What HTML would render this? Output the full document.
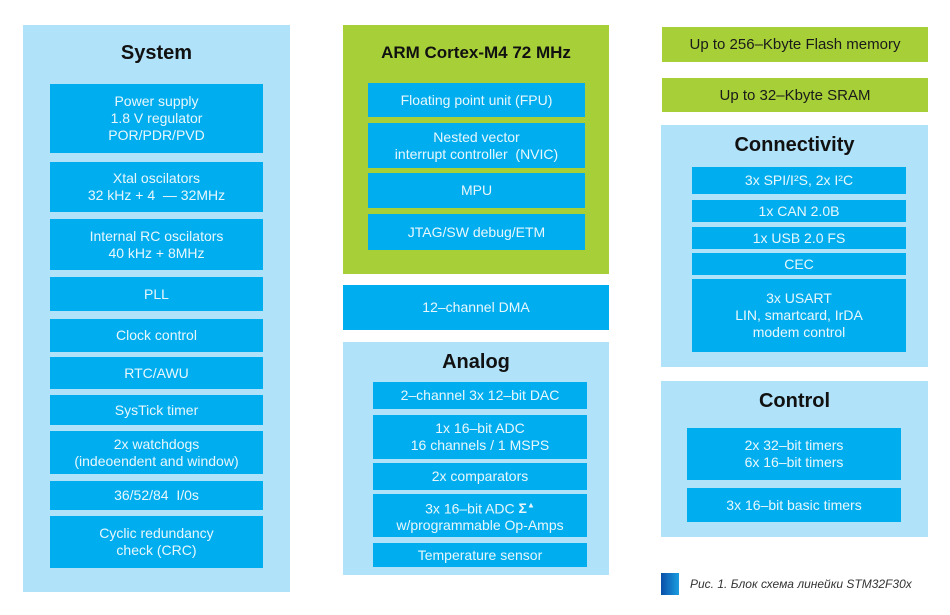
<!DOCTYPE html>
<html><head><meta charset="utf-8"><style>
body{margin:0;width:950px;height:615px;background:#fff;position:relative;overflow:hidden;font-family:"Liberation Sans","DejaVu Sans",sans-serif}
.p{position:absolute;background:#b0e2f9}
.g{position:absolute;background:#a6cf38}
.b{position:absolute;background:#00aeef;color:#e8f7fd;font-size:14px;line-height:17px;display:flex;align-items:center;justify-content:center;text-align:center}
.t{position:absolute;font-weight:bold;font-size:20px;color:#111;text-align:center}
.gl{position:absolute;background:#a6cf38;color:#1a1a1a;font-size:15px;display:flex;align-items:center;justify-content:center}
</style></head><body>
<div class="p" style="left:23px;top:25px;width:267px;height:567px"></div>
<div class="t" style="left:23px;top:42px;width:267px">System</div>
<div class="b" style="left:50px;top:84px;width:213px;height:69px">Power supply<br>1.8 V regulator<br>POR/PDR/PVD</div>
<div class="b" style="left:50px;top:162px;width:213px;height:50px">Xtal oscilators<br>32 kHz + 4 &nbsp;— 32MHz</div>
<div class="b" style="left:50px;top:219px;width:213px;height:51px">Internal RC oscilators<br>40 kHz + 8MHz</div>
<div class="b" style="left:50px;top:277px;width:213px;height:34px">PLL</div>
<div class="b" style="left:50px;top:319px;width:213px;height:33px">Clock control</div>
<div class="b" style="left:50px;top:357px;width:213px;height:32px">RTC/AWU</div>
<div class="b" style="left:50px;top:395px;width:213px;height:30px">SysTick timer</div>
<div class="b" style="left:50px;top:431px;width:213px;height:43px">2x watchdogs<br>(indeoendent and window)</div>
<div class="b" style="left:50px;top:481px;width:213px;height:29px">36/52/84 &nbsp;I/0s</div>
<div class="b" style="left:50px;top:516px;width:213px;height:52px">Cyclic redundancy<br>check (CRC)</div>

<div class="g" style="left:343px;top:25px;width:266px;height:249px"></div>
<div class="t" style="left:343px;top:43px;width:266px;font-size:17px">ARM Cortex-M4 72 MHz</div>
<div class="b" style="left:368px;top:83px;width:217px;height:34px">Floating point unit (FPU)</div>
<div class="b" style="left:368px;top:123px;width:217px;height:45px">Nested vector<br>interrupt controller &nbsp;(NVIC)</div>
<div class="b" style="left:368px;top:173px;width:217px;height:35px">MPU</div>
<div class="b" style="left:368px;top:214px;width:217px;height:36px">JTAG/SW debug/ETM</div>
<div class="b" style="left:343px;top:285px;width:266px;height:45px">12–channel DMA</div>

<div class="p" style="left:343px;top:342px;width:266px;height:233px"></div>
<div class="t" style="left:343px;top:351px;width:266px">Analog</div>
<div class="b" style="left:373px;top:382px;width:214px;height:27px">2–channel 3x 12–bit DAC</div>
<div class="b" style="left:373px;top:415px;width:214px;height:44px">1x 16–bit ADC<br>16 channels / 1 MSPS</div>
<div class="b" style="left:373px;top:463px;width:214px;height:27px">2x comparators</div>
<div class="b" style="left:373px;top:494px;width:214px;height:43px"><span>3x 16–bit ADC <b>Σ<sup style="font-size:8px">▲</sup></b><br>w/programmable Op-Amps</span></div>
<div class="b" style="left:373px;top:543px;width:214px;height:24px">Temperature sensor</div>

<div class="gl" style="left:662px;top:27px;width:266px;height:35px">Up to 256–Kbyte Flash memory</div>
<div class="gl" style="left:662px;top:78px;width:266px;height:34px">Up to 32–Kbyte SRAM</div>

<div class="p" style="left:661px;top:125px;width:267px;height:242px"></div>
<div class="t" style="left:661px;top:134px;width:267px">Connectivity</div>
<div class="b" style="left:692px;top:167px;width:214px;height:27px">3x SPI/I²S, 2x I²C</div>
<div class="b" style="left:692px;top:200px;width:214px;height:22px">1x CAN 2.0B</div>
<div class="b" style="left:692px;top:227px;width:214px;height:22px">1x USB 2.0 FS</div>
<div class="b" style="left:692px;top:253px;width:214px;height:22px">CEC</div>
<div class="b" style="left:692px;top:279px;width:214px;height:73px">3x USART<br>LIN, smartcard, IrDA<br>modem control</div>

<div class="p" style="left:661px;top:381px;width:267px;height:156px"></div>
<div class="t" style="left:661px;top:390px;width:267px">Control</div>
<div class="b" style="left:687px;top:428px;width:214px;height:52px">2x 32–bit timers<br>6x 16–bit timers</div>
<div class="b" style="left:687px;top:488px;width:214px;height:34px">3x 16–bit basic timers</div>

<div style="position:absolute;left:661px;top:573px;width:18px;height:22px;background:linear-gradient(90deg,#0a4fa8,#1a9de0)"></div>
<div style="position:absolute;left:690px;top:577px;font-size:12px;font-style:italic;color:#333">Рис. 1. Блок схема линейки STM32F30x</div>
</body></html>
